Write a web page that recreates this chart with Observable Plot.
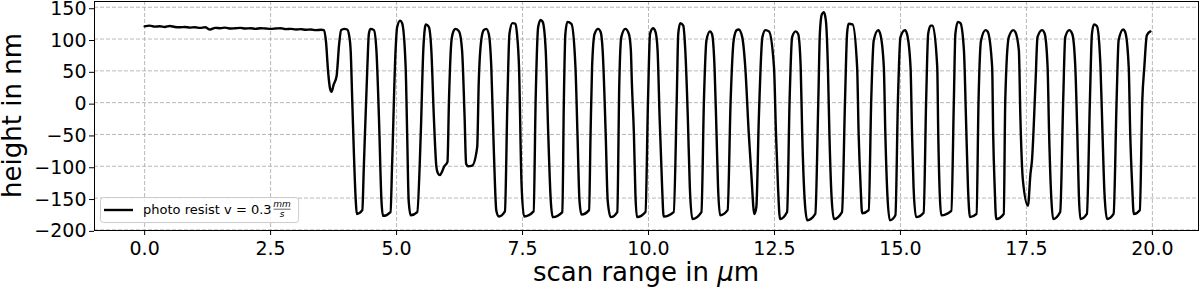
<!DOCTYPE html>
<html>
<head>
<meta charset="utf-8">
<script src="https://cdn.jsdelivr.net/npm/d3@7"></script>
<script src="https://cdn.jsdelivr.net/npm/@observablehq/plot@0.6"></script>
<style>
  html, body { margin: 0; padding: 0; background: #fff; }
  #chart { width: 1200px; height: 293px; }
  #chart svg { overflow: visible; }
</style>
</head>
<body>
<div id="chart"></div>
<script>
// ---- data (scan range in µm, height in nm) ----
const scanRange = [
  0.00,0.10,0.20,0.30,0.40,0.50,0.60,0.70,0.80,0.90,1.00,1.10,1.20,1.30,1.40,1.50,1.60,1.70,1.80,1.90,
  2.00,2.10,2.20,2.30,2.40,2.50,2.60,2.70,2.80,2.90,3.00,3.10,3.20,3.30,3.40,3.50,3.56,
  3.60,3.64,3.68,3.71,3.75,3.81,3.86,3.90,3.96,4.02,4.06,4.09,4.12,4.19,4.21,4.32,
  4.35,4.42,4.45,4.48,4.55,4.60,4.65,4.70,4.73,4.88,
  4.91,4.98,5.01,5.07,5.11,5.18,5.21,5.24,5.28,5.41,
  5.48,5.53,5.56,5.58,5.64,5.69,5.74,5.79,5.82,5.86,5.90,5.94,6.01,
  6.04,6.09,6.14,6.17,6.24,6.30,6.35,6.38,6.42,6.50,6.60,
  6.63,6.68,6.73,6.78,6.83,6.88,6.93,6.98,7.03,7.15,
  7.20,7.24,7.30,7.36,7.39,7.43,7.48,7.53,7.72,
  7.76,7.81,7.86,7.90,7.96,8.01,8.06,8.10,8.29,
  8.32,8.35,8.39,8.47,8.55,8.59,8.63,8.67,8.82,
  8.85,8.88,8.93,9.00,9.05,9.09,9.15,9.19,9.25,9.38,
  9.42,9.46,9.54,9.61,9.65,9.67,9.71,9.74,9.77,9.94,
  9.99,10.03,10.09,10.14,10.18,10.22,10.27,10.30,10.50,
  10.56,10.59,10.63,10.69,10.73,10.78,10.82,10.87,11.05,
  11.10,11.15,11.22,11.26,11.31,11.35,11.38,11.42,11.57,
  11.63,11.69,11.75,11.79,11.86,11.92,11.99,12.04,12.10,12.14,
  12.19,12.26,12.32,12.39,12.49,12.53,12.57,12.61,12.75,
  12.80,12.85,12.92,12.97,13.02,13.05,13.10,13.15,13.31,
  13.37,13.40,13.44,13.48,13.52,13.56,13.59,13.63,13.68,13.84,
  13.90,13.94,13.97,14.05,14.14,14.17,14.21,14.24,14.37,
  14.42,14.47,14.56,14.60,14.67,14.70,14.74,14.79,14.90,
  14.95,15.00,15.09,15.13,15.20,15.23,15.26,15.31,15.46,
  15.51,15.55,15.60,15.64,15.73,15.75,15.78,15.81,16.01,
  16.06,16.09,16.14,16.19,16.26,16.30,16.34,16.38,16.51,
  16.55,16.60,16.69,16.73,16.82,16.84,16.87,16.90,17.05,
  17.08,17.15,17.24,17.28,17.35,17.38,17.43,17.53,17.58,17.61,
  17.68,17.72,17.81,17.86,17.92,17.95,17.99,18.03,18.17,
  18.23,18.27,18.35,18.41,18.47,18.51,18.54,18.57,18.70,
  18.76,18.80,18.84,18.90,18.97,19.01,19.05,19.10,19.23,
  19.29,19.33,19.42,19.46,19.53,19.56,19.60,19.63,19.75,
  19.80,19.84,19.89,19.96
];
const heightNm = [
  120,121,119.5,120,119,120.5,119,118.5,119,118,118.5,117.5,118.5,115,117.5,117,118,116.5,117,117.5,
  116.5,117,116,117,116.5,116,116.5,117,115.5,116,115,115.5,114.5,115,114,114.5,114,
  95,50,22,17,28,42,92,114,116,115,105,80,4,-154,-175,-169,
  -101,56,108,116,114,82,-23,-154,-178,-172,
  -101,82,118,129,125,56,-49,-154,-177,-172,
  -49,82,116,123,119,82,-23,-101,-111,-114,-109,-101,-93,
  4,98,114,116,112,82,-23,-96,-100,-99,-70,
  30,98,114,116,108,56,-75,-170,-179,-171,
  4,108,125,124,108,56,-128,-179,-171,
  4,119,130,127,82,-49,-154,-180,-172,
  4,108,127,124,56,-49,-154,-176,-169,
  -49,56,108,116,111,82,-49,-154,-180,-172,
  30,103,116,108,82,30,-49,-144,-180,-172,
  4,108,117,111,82,-23,-133,-179,-172,
  4,108,125,121,82,-23,-133,-183,-172,
  4,98,112,108,56,-49,-133,-177,-169,
  4,98,114,115,103,56,-49,-112,-175,-164,
  -23,103,114,112,56,-49,-133,-183,-172,
  4,103,112,108,56,-49,-154,-185,-175,
  4,108,139,142,129,56,-49,-144,-183,-172,
  4,108,124,123,56,-49,-133,-174,-169,
  4,98,114,108,56,-49,-144,-185,-177,
  4,103,114,108,56,-49,-133,-180,-173,
  4,108,121,121,56,-49,-144,-177,-170,
  4,108,127,125,82,-23,-133,-180,-175,
  4,98,114,112,56,-49,-133,-183,-175,
  4,103,114,111,82,-23,-122,-162,-112,-91,
  30,103,114,109,56,-49,-144,-183,-172,
  4,103,114,108,56,-49,-144,-183,-175,
  4,108,123,120,56,-49,-144,-183,-175,
  4,98,115,111,56,-49,-133,-175,-169,
  4,56,106,112
];
const xTicks = [0, 2.5, 5, 7.5, 10, 12.5, 15, 17.5, 20];
const yTicks = [-200, -150, -100, -50, 0, 50, 100, 150];
const xLabel = ["scan range in ", "μ", "m"];
const yLabel = "height in nm";
const legendText = "photo resist v = 0.3";
const legendNum = "mm";
const legendDen = "s";

const points = scanRange.map((x, i) => ({x, y: heightNm[i]}));

const gridStyle = {stroke: "#b0b0b0", strokeOpacity: 1, strokeWidth: 0.9, strokeDasharray: "4,2"};

const chart = Plot.plot({
  width: 1200,
  height: 293,
  marginLeft: 94,
  marginRight: 2,
  marginTop: 1,
  marginBottom: 63,
  style: {fontFamily: "'DejaVu Sans', sans-serif", fontSize: "19px", color: "#000", background: "#fff", overflow: "visible"},
  x: {domain: [-0.995, 20.915]},
  y: {domain: [-201, 159]},
  marks: [
    Plot.gridX(xTicks, gridStyle),
    Plot.gridY(yTicks, gridStyle),
    Plot.line(points, {x: "x", y: "y", stroke: "#000", strokeWidth: 2.4, curve: "monotone-x"}),
    Plot.frame({stroke: "#000", strokeWidth: 1}),
    Plot.axisX(xTicks, {tickFormat: d3.format(".1f"), tickSize: 5, tickPadding: 6, fontSize: 19, label: null}),
    Plot.axisY(yTicks, {tickFormat: d3.format("d"), tickSize: 5, tickPadding: 3, fontSize: 19, dy: 1.5, label: null})
  ]
});
document.getElementById("chart").appendChild(chart);

// ---- axis titles and legend (matplotlib-like) ----
const svg = d3.select(chart);
const font = "'DejaVu Sans', sans-serif";

const xt = svg.append("text")
  .attr("x", (94 + 1198) / 2).attr("y", 281)
  .attr("text-anchor", "middle").attr("font-family", font).attr("font-size", 26).attr("fill", "#000");
xt.append("tspan").text(xLabel[0]);
xt.append("tspan").attr("font-style", "italic").text(xLabel[1]);
xt.append("tspan").text(xLabel[2]);

svg.append("text")
  .attr("transform", "translate(21,115.5) rotate(-90)")
  .attr("text-anchor", "middle").attr("font-family", font).attr("font-size", 26).attr("fill", "#000")
  .text(yLabel);

const lg = svg.append("g").attr("text-anchor", "start");
const box = lg.append("rect")
  .attr("x", 100.5).attr("y", 197.5).attr("height", 25).attr("rx", 3)
  .attr("fill", "#fff").attr("fill-opacity", 0.8).attr("stroke", "#cccccc").attr("stroke-width", 1);
lg.append("line").attr("x1", 104).attr("x2", 133).attr("y1", 210).attr("y2", 210)
  .attr("stroke", "#000").attr("stroke-width", 2.4);
const lt = lg.append("text").attr("x", 143).attr("y", 214)
  .attr("text-anchor", "start")
  .attr("font-family", font).attr("font-size", 13).attr("fill", "#000").text(legendText);
const endX = 143 + lt.node().getComputedTextLength();
const fracW = 17;
const fc = endX + 2 + fracW / 2;
lg.append("text").attr("x", fc).attr("y", 206.5).attr("text-anchor", "middle")
  .attr("font-family", font).attr("font-style", "italic").attr("font-size", 9).attr("fill", "#000").text(legendNum);
lg.append("line").attr("x1", fc - fracW / 2).attr("x2", fc + fracW / 2).attr("y1", 209.2).attr("y2", 209.2)
  .attr("stroke", "#000").attr("stroke-width", 0.6);
lg.append("text").attr("x", fc).attr("y", 216.8).attr("text-anchor", "middle")
  .attr("font-family", font).attr("font-style", "italic").attr("font-size", 9).attr("fill", "#000").text(legendDen);
box.attr("width", fc + fracW / 2 + 8 - 100.5);
</script>
</body>
</html>
